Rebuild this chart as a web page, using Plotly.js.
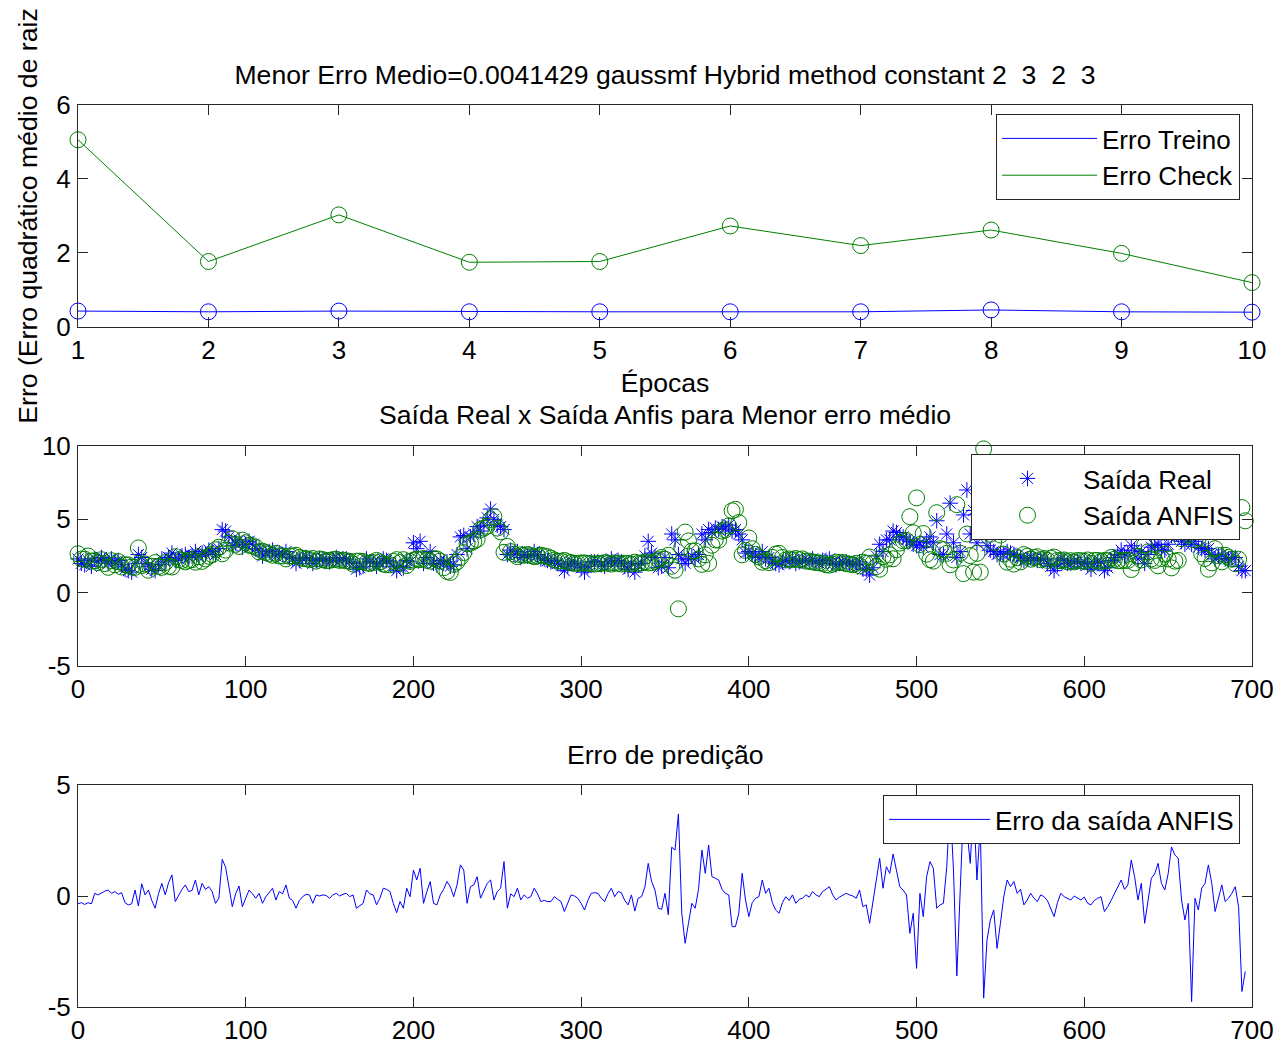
<!DOCTYPE html>
<html>
<head>
<meta charset="utf-8">
<script src="https://cdn.plot.ly/plotly-3.0.1.min.js"></script>
<style>html,body{margin:0;padding:0;background:#fff}</style>
</head>
<body>
<div id="chart" style="width:1281px;height:1046px"></div>
<script>
// ---- Subplot 1: erro por época ----
const epocas = [1, 2, 3, 4, 5, 6, 7, 8, 9, 10];
const erroTreino = [0.43, 0.41, 0.43, 0.41, 0.41, 0.41, 0.41, 0.46, 0.41, 0.40];
const erroCheck = [5.06, 1.77, 3.03, 1.75, 1.77, 2.73, 2.20, 2.62, 1.99, 1.20];

// ---- Subplots 2 & 3: samples every 2 indices (0..696) ----
const passoAmostra = 2;
const saidaReal = [
2.3,2.0,1.9,2.2,1.8,2.3,2.1,2.4,2.2,2.0,
2.3,2.1,2.2,1.9,1.6,1.5,1.4,2.0,2.6,2.4,
2.0,1.8,1.6,1.5,1.9,2.3,2.1,2.4,2.7,2.2,
2.3,2.5,2.6,2.4,2.5,2.8,2.5,2.7,2.6,2.9,
2.8,2.6,3.0,4.3,4.2,3.8,3.2,3.4,3.6,3.1,
3.3,3.5,3.3,3.0,2.9,2.5,2.7,2.8,2.9,2.5,
2.7,2.6,2.8,2.4,2.3,2.0,2.2,2.3,2.4,2.3,
2.0,2.2,2.3,2.3,2.2,2.1,2.3,2.4,2.2,2.3,
2.3,2.1,2.0,1.6,1.7,1.8,2.3,2.1,2.1,1.8,
2.0,2.3,2.2,2.1,1.8,1.5,1.8,1.7,2.2,2.1,
3.4,3.0,3.5,2.0,2.4,2.8,2.0,1.9,2.2,2.0,
2.1,1.8,1.9,2.6,3.8,3.9,3.0,3.8,4.0,4.5,
4.2,4.6,5.1,5.7,5.0,4.6,4.5,4.3,2.6,2.9,
2.6,2.8,2.4,2.6,2.5,2.5,2.8,2.6,2.3,2.3,
2.2,2.1,2.2,2.0,1.9,1.5,1.8,2.1,2.0,1.9,
1.7,1.4,1.8,2.1,2.1,2.1,1.9,1.8,2.1,2.3,
2.0,2.2,2.1,1.8,1.6,2.0,1.4,1.9,2.0,2.5,
3.5,2.7,2.4,1.7,1.8,2.4,1.7,4.0,3.6,2.6,
2.3,2.0,2.3,2.5,2.3,2.6,4.0,3.6,4.3,4.1,
4.4,4.3,4.5,4.4,4.6,4.2,4.3,4.0,3.6,2.7,
2.8,2.7,2.5,2.4,2.8,2.3,2.4,2.1,2.0,1.9,
2.1,2.2,2.1,2.3,2.0,2.1,2.2,2.2,2.1,2.3,
2.1,2.0,2.2,2.2,2.3,2.0,1.9,2.0,2.1,2.1,
2.0,1.9,1.9,2.1,1.6,1.6,1.2,1.7,2.5,3.3,
2.8,3.6,3.6,4.2,4.1,3.8,3.8,3.6,3.5,3.3,
3.2,3.4,3.1,3.5,3.8,3.4,4.9,2.6,2.6,4.0,
6.1,3.4,2.4,2.8,5.3,7.0,4.0,5.6,3.4,4.6,
5.2,3.2,2.9,2.8,2.6,2.7,2.6,2.8,2.7,2.6,
2.5,2.4,2.2,2.3,2.4,2.3,2.2,2.3,2.3,2.0,
1.8,1.5,1.9,2.3,2.2,2.0,2.0,2.1,2.1,2.0,
2.1,1.9,1.6,2.0,2.1,2.1,1.5,1.7,2.2,2.4,
2.6,2.9,2.5,2.7,3.2,2.9,2.3,2.8,2.0,2.6,
3.1,3.2,3.3,2.9,2.9,3.3,3.9,4.0,3.9,3.5,
3.3,3.6,3.3,3.5,3.1,3.0,2.9,3.0,2.6,2.3,
2.5,2.6,2.3,2.3,2.4,2.4,1.8,1.5,1.5
];
const saidaAnfis = [
2.65,2.3,2.28,2.5,2.15,2.18,2.05,2.25,1.98,1.73,
2.18,1.9,2.12,1.75,1.9,1.9,1.75,1.73,3.05,1.85,
1.95,1.53,1.8,2.05,1.8,1.73,2.05,1.8,1.75,2.45,
2.25,2.2,2.1,2.2,2.25,2.08,2.45,2.13,2.3,2.48,
2.6,2.93,3.1,2.65,2.9,3.38,3.68,3.3,3.15,3.58,
3.4,3.23,3.2,3.1,2.78,2.83,2.73,2.65,2.55,2.68,
2.5,2.5,2.3,2.5,2.5,2.55,2.4,2.33,2.32,2.25,
2.33,2.15,2.3,2.25,2.18,2.2,2.25,2.28,2.2,2.22,
2.18,2.13,1.95,2.15,2.15,2.13,2.03,2.0,2.05,2.2,
2.1,1.95,1.9,1.9,2.13,2.25,2.05,2.25,1.85,2.13,
2.23,2.28,2.25,2.33,2.2,2.15,2.33,2.3,2.15,1.7,
1.45,1.38,1.93,2.1,2.4,2.73,3.33,3.38,3.5,3.63,
4.3,4.4,4.53,4.98,5.18,4.4,4.15,2.75,3.15,2.8,
2.63,2.45,2.58,2.55,2.6,2.53,2.45,2.5,2.55,2.5,
2.45,2.35,2.23,2.15,2.15,2.2,2.1,2.05,2.0,2.0,
2.03,2.03,2.0,1.98,1.95,1.98,2.0,2.05,2.0,1.95,
2.03,2.0,1.95,2.0,2.0,1.95,2.08,2.0,2.03,2.1,
2.03,2.05,2.13,2.25,2.4,2.28,2.55,1.8,1.53,-1.1,
3.08,4.13,3.53,2.83,2.85,2.3,1.93,2.58,2.0,3.23,
3.6,3.58,4.2,4.28,4.55,5.58,5.68,4.78,2.58,2.88,
3.73,3.0,2.6,2.43,2.08,2.18,2.05,2.4,2.63,2.68,
2.4,2.23,2.3,2.25,2.33,2.25,2.3,2.15,2.15,2.1,
2.05,2.03,2.0,1.9,1.88,1.95,2.08,2.05,2.05,1.98,
1.95,1.9,2.0,1.83,2.08,2.0,2.43,2.03,1.78,1.6,
2.45,2.28,2.58,2.31,2.93,3.38,3.53,3.55,5.18,4.08,
6.46,3.28,4.03,2.63,2.25,2.15,5.45,3.0,2.93,2.68,
1.9,2.23,6.0,2.68,1.3,4.0,2.53,1.4,2.68,1.4,
9.8,5.18,3.98,3.43,4.96,3.93,2.63,2.08,2.28,1.95,
2.38,2.1,2.6,2.48,2.28,2.4,2.45,2.25,2.33,2.2,
2.35,2.43,2.2,2.18,2.23,2.1,2.18,2.1,2.2,2.18,
2.15,2.23,2.0,2.2,2.2,2.13,2.2,2.18,2.4,2.28,
2.18,2.18,2.2,2.2,1.58,2.03,2.48,2.23,3.23,2.78,
2.3,2.2,1.83,2.33,2.63,2.3,1.69,2.15,2.2,3.68,
4.38,3.93,8.06,3.6,3.73,2.65,2.33,1.6,2.03,3.0,
2.53,2.1,2.55,2.4,2.28,1.98,2.28,5.8,4.9
];
const erroPredicao = [
-0.35,-0.3,-0.38,-0.3,-0.35,0.12,0.05,0.15,0.22,0.27,
0.12,0.2,0.08,0.15,-0.3,-0.4,-0.35,0.27,-0.45,0.55,
0.05,0.27,-0.2,-0.55,0.1,0.57,0.05,0.6,0.95,-0.25,
0.05,0.3,0.5,0.2,0.25,0.72,0.05,0.57,0.3,0.42,
0.2,-0.33,-0.1,1.65,1.3,0.42,-0.48,0.1,0.45,-0.48,
-0.1,0.27,0.1,-0.1,0.12,-0.33,-0.03,0.15,0.35,-0.18,
0.2,0.1,0.5,-0.1,-0.2,-0.55,-0.2,-0.03,0.08,0.05,
-0.33,0.05,0,0.05,0.02,-0.1,0.05,0.12,0,0.08,
0.12,-0.03,0.05,-0.55,-0.45,-0.33,0.27,0.1,0.05,-0.4,
-0.1,0.35,0.3,0.2,-0.33,-0.75,-0.25,-0.55,0.35,-0.03,
1.17,0.72,1.25,-0.33,0.2,0.65,-0.33,-0.4,0.05,0.3,
0.65,0.42,-0.03,0.5,1.4,1.17,-0.33,0.42,0.5,0.87,
-0.1,0.2,0.57,0.72,-0.18,0.2,0.35,1.55,-0.55,0.1,
-0.03,0.35,-0.18,0.05,-0.1,-0.03,0.35,0.1,-0.25,-0.2,
-0.25,-0.25,-0.03,-0.15,-0.25,-0.7,-0.3,0.05,0,-0.1,
-0.33,-0.63,-0.2,0.12,0.15,0.12,-0.1,-0.25,0.1,0.35,
-0.03,0.2,0.15,-0.2,-0.4,0.05,-0.68,-0.1,-0.03,0.4,
1.47,0.65,0.27,-0.55,-0.6,0.12,-0.85,2.2,2.07,3.7,
-0.78,-2.13,-1.23,-0.33,-0.55,0.3,2.07,1.02,2.3,0.87,
0.8,0.72,0.3,0.12,0.05,-1.38,-1.38,-0.78,1.02,-0.18,
-0.93,-0.3,-0.1,-0.03,0.72,0.12,0.35,-0.3,-0.63,-0.78,
-0.3,-0.03,-0.2,0.05,-0.33,-0.15,-0.1,0.05,-0.05,0.2,
0.05,-0.03,0.2,0.3,0.42,0.05,-0.18,-0.05,0.05,0.12,
0.05,0,-0.1,0.27,-0.48,-0.4,-1.23,-0.33,0.72,1.7,
0.35,1.32,1.02,1.89,1.17,0.42,0.27,0.05,-1.68,-0.78,
-3.26,0.12,-0.93,0.87,1.55,1.25,-0.55,-0.4,-0.33,1.32,
4.2,1.17,-3.6,0.12,4,3,1.47,4.2,0.72,3.2,
-4.6,-1.98,-1.08,-0.63,-2.36,-1.23,-0.03,0.72,0.42,0.65,
0.12,0.3,-0.4,-0.18,0.12,-0.1,-0.25,0.05,-0.03,-0.2,
-0.55,-0.93,-0.3,0.12,-0.03,-0.1,-0.18,0,-0.1,-0.18,
-0.05,-0.33,-0.4,-0.2,-0.1,-0.03,-0.7,-0.48,-0.2,0.12,
0.42,0.72,0.3,0.5,1.62,0.87,-0.18,0.57,-1.23,-0.18,
0.8,1,1.47,0.57,0.27,1,2.21,1.85,1.7,-0.18,
-1.08,-0.33,-4.76,-0.1,-0.63,0.35,0.57,1.4,0.57,-0.7,
-0.03,0.5,-0.25,-0.1,0.12,0.42,-0.48,-4.3,-3.4
];
const amostras = saidaReal.map((_, i) => i * passoAmostra);

// ---- Tick labels (plain hyphen minus, as in the original) ----
const ticksY2 = [-5, 0, 5, 10];
const rotulosY2 = ['-5', '0', '5', '10'];
const ticksY3 = [-5, 0, 5];
const rotulosY3 = ['-5', '0', '5'];

// ---- Text ----
const tituloPrincipal = 'Menor Erro Medio=0.0041429 gaussmf Hybrid method constant 2 \u00a03 \u00a02 \u00a03';
const tituloSaida = 'Saída Real x Saída Anfis para Menor erro médio';
const tituloErro = 'Erro de predição';
const rotuloX1 = 'Épocas';
const rotuloY1 = 'Erro (Erro quadrático médio de raiz';

const AZUL = '#0000ff', VERDE = '#008000', EIXO = '#262626';
const FONTE = 'Liberation Sans, Arial, Helvetica, sans-serif';
const FS = 26;
const FST = 26.6;

const traces = [
  {x: epocas, y: erroTreino, type: 'scatter', mode: 'lines', name: 'Erro Treino',
   line: {color: AZUL, width: 1}, xaxis: 'x', yaxis: 'y', legend: 'legend'},
  {x: epocas, y: erroCheck, type: 'scatter', mode: 'lines', name: 'Erro Check',
   line: {color: VERDE, width: 1}, xaxis: 'x', yaxis: 'y', legend: 'legend'},
  {x: epocas, y: erroTreino, type: 'scatter', mode: 'markers', showlegend: false, cliponaxis: false,
   marker: {symbol: 'circle-open', size: 16, color: AZUL, line: {width: 1, color: AZUL}}, xaxis: 'x', yaxis: 'y'},
  {x: epocas, y: erroCheck, type: 'scatter', mode: 'markers', showlegend: false, cliponaxis: false,
   marker: {symbol: 'circle-open', size: 16, color: VERDE, line: {width: 1, color: VERDE}}, xaxis: 'x', yaxis: 'y'},

  {x: amostras, y: saidaReal, type: 'scatter', mode: 'markers', name: 'Saída Real', cliponaxis: false,
   marker: {symbol: 'asterisk-open', size: 13, color: AZUL, line: {width: 1, color: AZUL}},
   xaxis: 'x2', yaxis: 'y2', legend: 'legend2'},
  {x: amostras, y: saidaAnfis, type: 'scatter', mode: 'markers', name: 'Saída ANFIS', cliponaxis: false,
   marker: {symbol: 'circle-open', size: 16, color: VERDE, line: {width: 1, color: VERDE}},
   xaxis: 'x2', yaxis: 'y2', legend: 'legend2'},

  {x: amostras, y: erroPredicao, type: 'scatter', mode: 'lines', name: 'Erro da saída ANFIS',
   line: {color: AZUL, width: 1}, xaxis: 'x3', yaxis: 'y3', legend: 'legend3'}
];

const eixoBase = {
  showline: true, mirror: 'ticks', linecolor: EIXO, linewidth: 1,
  ticks: 'inside', ticklen: 10, tickwidth: 1, tickcolor: EIXO,
  showgrid: false, zeroline: false,
  tickfont: {family: FONTE, size: FS, color: '#000'}
};
const eixoX = Object.assign({}, eixoBase, {ticklabelstandoff: 0});
const eixoY = Object.assign({}, eixoBase, {ticklabelstandoff: 1});

const legendaBase = {
  xref: 'paper', yref: 'paper', xanchor: 'right', yanchor: 'top',
  bgcolor: '#ffffff', bordercolor: EIXO, borderwidth: 1,
  font: {family: FONTE, size: FS, color: '#000'},
  tracegroupgap: 0
};
const yPapel = py => (1007 - py) / 902;

const layout = {
  width: 1281, height: 1046,
  margin: {l: 78, r: 29, t: 105, b: 39},
  paper_bgcolor: '#ffffff', plot_bgcolor: '#ffffff',
  font: {family: FONTE, size: FS, color: '#000'},
  showlegend: true,
  title: {text: tituloPrincipal, xref: 'paper', x: 0.5, xanchor: 'center',
          yref: 'container', y: 1 - 75 / 1046, yanchor: 'middle',
          font: {family: FONTE, size: FST, color: '#000'}},
  xaxis: Object.assign({}, eixoX, {anchor: 'y', domain: [0, 1], range: [1, 10], tick0: 1, dtick: 1,
          title: {text: rotuloX1, standoff: 9, font: {family: FONTE, size: FST}}}),
  yaxis: Object.assign({}, eixoY, {anchor: 'x', domain: [0.7539, 1], range: [0, 6], dtick: 2,
          title: {text: rotuloY1, standoff: 11, font: {family: FONTE, size: FST}}}),
  xaxis2: Object.assign({}, eixoX, {anchor: 'y2', domain: [0, 1], range: [0, 700], dtick: 100}),
  yaxis2: Object.assign({}, eixoY, {anchor: 'x2', domain: [0.378, 0.622], range: [-5, 10],
          tickmode: 'array', tickvals: ticksY2, ticktext: rotulosY2}),
  xaxis3: Object.assign({}, eixoX, {anchor: 'y3', domain: [0, 1], range: [0, 700], dtick: 100}),
  yaxis3: Object.assign({}, eixoY, {anchor: 'x3', domain: [0, 0.2461], range: [-5, 5],
          tickmode: 'array', tickvals: ticksY3, ticktext: rotulosY3}),
  legend: Object.assign({}, legendaBase, {x: 0.9898, y: yPapel(114), itemwidth: 95}),
  legend2: Object.assign({}, legendaBase, {x: 0.9898, y: yPapel(454), itemwidth: 101}),
  legend3: Object.assign({}, legendaBase, {x: 0.9898, y: yPapel(795), itemwidth: 101}),
  annotations: [
    {text: tituloSaida, xref: 'paper', yref: 'paper', x: 0.5, y: yPapel(415),
     xanchor: 'center', yanchor: 'middle', showarrow: false, font: {family: FONTE, size: FST, color: '#000'}},
    {text: tituloErro, xref: 'paper', yref: 'paper', x: 0.5, y: yPapel(755),
     xanchor: 'center', yanchor: 'middle', showarrow: false, font: {family: FONTE, size: FST, color: '#000'}}
  ]
};

Plotly.newPlot('chart', traces, layout, {displayModeBar: false, responsive: false, staticPlot: true});
</script>
</body>
</html>
